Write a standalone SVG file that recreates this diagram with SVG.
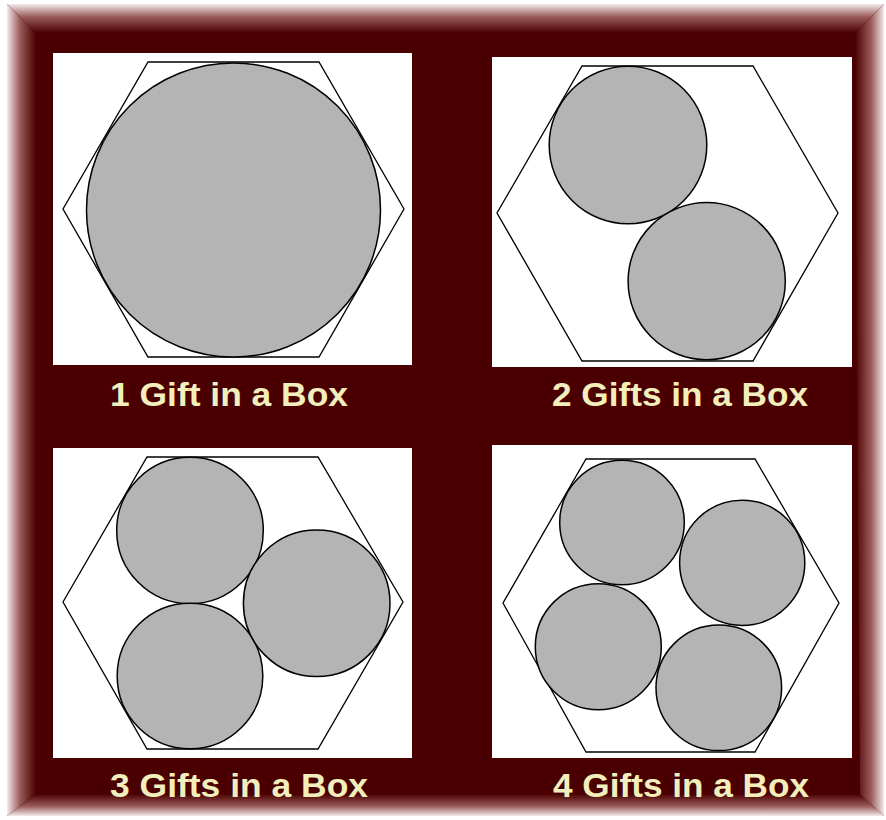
<svg xmlns="http://www.w3.org/2000/svg" width="886" height="820" viewBox="0 0 886 820">
  <defs>
    <linearGradient id="gTop" x1="0" y1="0" x2="0" y2="1">
      <stop offset="0" stop-color="#f4eaea"/>
      <stop offset="0.45" stop-color="#9a5a5a"/>
      <stop offset="1" stop-color="#4a0000"/>
    </linearGradient>
    <linearGradient id="gBottom" x1="0" y1="1" x2="0" y2="0">
      <stop offset="0" stop-color="#f4eaea"/>
      <stop offset="0.45" stop-color="#9a5a5a"/>
      <stop offset="1" stop-color="#4a0000"/>
    </linearGradient>
    <linearGradient id="gLeft" x1="0" y1="0" x2="1" y2="0">
      <stop offset="0" stop-color="#f4eaea"/>
      <stop offset="0.45" stop-color="#9a5a5a"/>
      <stop offset="1" stop-color="#4a0000"/>
    </linearGradient>
    <linearGradient id="gRight" x1="1" y1="0" x2="0" y2="0">
      <stop offset="0" stop-color="#f4eaea"/>
      <stop offset="0.45" stop-color="#9a5a5a"/>
      <stop offset="1" stop-color="#4a0000"/>
    </linearGradient>
  </defs>
  <style>
    .panel { fill: #ffffff; }
    .hex { fill: none; stroke: #000000; stroke-width: 1.3; }
    .gift { fill: #b4b4b4; stroke: #000000; stroke-width: 1.5; }
    .label { font-family: "Liberation Sans", Arial, sans-serif; font-weight: bold; font-size: 34px; fill: #f2efbd; }
  </style>

  <rect x="0" y="0" width="886" height="820" fill="#ffffff"/>

  <g id="frame">
    <rect x="7" y="4" width="877" height="812" fill="#4a0000"/>
    <polygon points="7,4 884,4 855,33 36,33" fill="url(#gTop)"/>
    <polygon points="7,816 884,816 860,794 36,794" fill="url(#gBottom)"/>
    <polygon points="7,4 36,33 36,794 7,816" fill="url(#gLeft)"/>
    <polygon points="884,4 855,33 860,794 884,816" fill="url(#gRight)"/>
  </g>

  <g id="panel1">
    <rect class="panel" x="53" y="53" width="359" height="312"/>
    <polygon class="hex" points="148,62 319,62 404,209 319,357 148,357 63,209"/>
    <circle class="gift" cx="233.5" cy="210" r="147"/>
    <text class="label" x="110" y="406" textLength="238" lengthAdjust="spacingAndGlyphs">1 Gift in a Box</text>
  </g>

  <g id="panel2">
    <rect class="panel" x="492" y="57" width="360" height="310"/>
    <polygon class="hex" points="582,66 753,66 838,213 753,361 582,361 497,213"/>
    <circle class="gift" cx="628" cy="145" r="78.8"/>
    <circle class="gift" cx="706.7" cy="281.2" r="78.6"/>
    <text class="label" x="552" y="406" textLength="256" lengthAdjust="spacingAndGlyphs">2 Gifts in a Box</text>
  </g>

  <g id="panel3">
    <rect class="panel" x="53" y="448" width="359" height="310"/>
    <polygon class="hex" points="147,457 318,457 403,602 318,749 147,749 63,602"/>
    <circle class="gift" cx="190" cy="530.5" r="73.3"/>
    <circle class="gift" cx="190" cy="676" r="72.8"/>
    <circle class="gift" cx="316.7" cy="603.3" r="73.3"/>
    <text class="label" x="110" y="797" textLength="258" lengthAdjust="spacingAndGlyphs">3 Gifts in a Box</text>
  </g>

  <g id="panel4">
    <rect class="panel" x="492" y="445" width="360" height="313"/>
    <polygon class="hex" points="586,459 755,459 839,603 755,752 586,752 503,603"/>
    <circle class="gift" cx="622" cy="522.5" r="62.3"/>
    <circle class="gift" cx="742.2" cy="562.8" r="62.6"/>
    <circle class="gift" cx="598.3" cy="646.7" r="63"/>
    <circle class="gift" cx="718.8" cy="687.8" r="62.8"/>
    <text class="label" x="553" y="797" textLength="256" lengthAdjust="spacingAndGlyphs">4 Gifts in a Box</text>
  </g>
</svg>
